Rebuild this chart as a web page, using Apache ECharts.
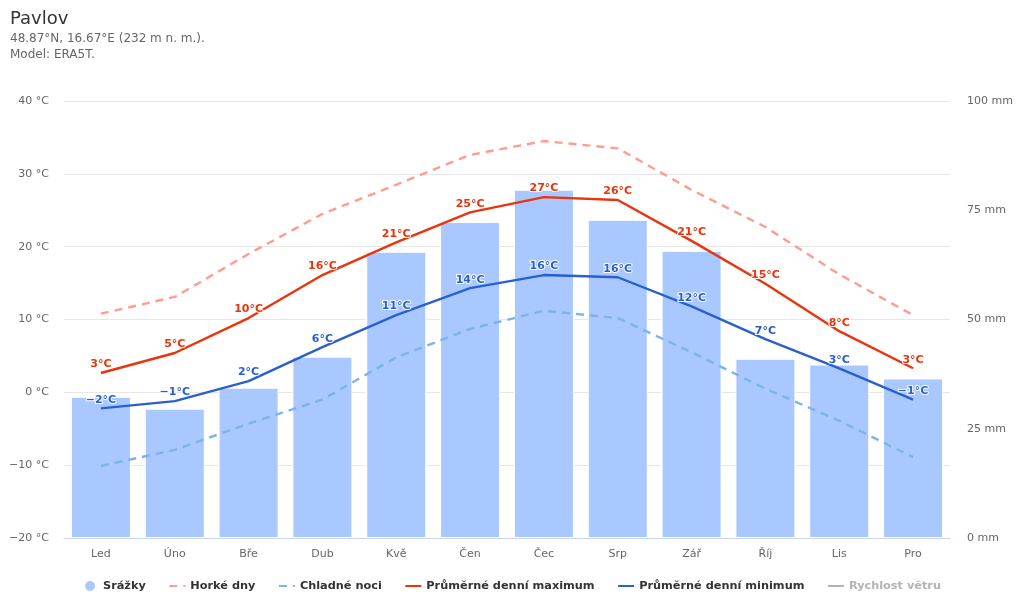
<!DOCTYPE html>
<html>
<head>
<meta charset="utf-8">
<title>Pavlov</title>
<style>
    html, body {margin: 0; padding: 0; background: #fff;}
    #chart {width: 1024px; height: 614px;}
</style>
<script src="https://cdn.jsdelivr.net/npm/echarts@6/dist/echarts.min.js"></script>
</head>
<body>
<div id="chart"></div>
<script>
const months = ['Led', 'Úno', 'Bře', 'Dub', 'Kvě', 'Čen', 'Čec', 'Srp', 'Zář', 'Říj', 'Lis', 'Pro'];
const precipitation = [32.3, 29.6, 34.4, 41.5, 65.5, 72.3, 79.7, 72.8, 65.7, 41, 39.7, 36.5];
const hotDays = [10.8, 13.1, 19, 24.5, 28.5, 32.6, 34.5, 33.5, 27.8, 22.7, 16.2, 10.6];
const coldNights = [-10.1, -7.9, -4.3, -1, 4.8, 8.7, 11.2, 10.2, 5.5, 0.5, -3.9, -8.9];
const meanMax = [2.65, 5.4, 10.2, 16.1, 20.6, 24.7, 26.8, 26.4, 20.8, 14.9, 8.4, 3.3];
const meanMin = [-2.2, -1.2, 1.55, 6.2, 10.6, 14.3, 16.1, 15.8, 11.8, 7.3, 3.3, -1];
const windSpeed = [];

const fontName = '"DejaVu Sans", sans-serif';

// popisky teplot s bílým lemem
const tempLabel = (color) => ({
    show: true,
    position: 'top',
    distance: 3,
    color: color,
    fontFamily: fontName,
    fontSize: 11,
    fontWeight: 'bold',
    textBorderColor: '#fff',
    textBorderWidth: 2,
    formatter: (p) => `${Math.round(p.value)}°C`.replace('-', '−'),
});

// v legendě jen čára, bez kolečka
const lineLegendItem = (name) => ({name: name, itemStyle: {color: 'transparent'}});

const chart = echarts.init(document.getElementById('chart'));
chart.setOption({
    animation: false,
    textStyle: {fontFamily: fontName},
    title: [
        {
            text: 'Pavlov',
            left: 10,
            top: 10,
            padding: 0,
            textStyle: {fontSize: 18, fontWeight: 400, color: '#333', fontFamily: fontName},
        },
        {
            text: '48.87°N, 16.67°E (232 m n. m.).\nModel: ERA5T.',
            left: 10,
            top: 31,
            padding: 0,
            textStyle: {fontSize: 12, fontWeight: 400, color: '#666', lineHeight: 16, fontFamily: fontName},
        },
    ],
    legend: {
        bottom: 16,
        left: 'center',
        itemWidth: 16,
        itemHeight: 12,
        itemGap: 22.5,
        textStyle: {fontSize: 11.3, fontWeight: 'bold', color: '#333', fontFamily: fontName},
        data: [
            {name: 'Srážky', icon: 'circle'},
            lineLegendItem('Horké dny'),
            lineLegendItem('Chladné noci'),
            lineLegendItem('Průměrné denní maximum'),
            lineLegendItem('Průměrné denní minimum'),
            // rychlost větru je v originále vypnutá, proto jen šedě
            {...lineLegendItem('Rychlost větru'), textStyle: {color: '#b3b3b3'}},
        ],
    },
    grid: {left: 64, right: 74, top: 101, bottom: 76},
    xAxis: {
        type: 'category',
        data: months,
        axisTick: {show: false},
        axisLine: {onZero: false, lineStyle: {color: '#ccd6eb'}},
        axisLabel: {color: '#666', fontSize: 11, margin: 11, fontFamily: fontName},
    },
    yAxis: [
        {
            type: 'value',
            min: -20,
            max: 40,
            interval: 10,
            axisLine: {show: false},
            axisTick: {show: false},
            splitLine: {lineStyle: {color: '#e6e6e6'}},
            axisLabel: {
                color: '#666',
                fontSize: 11,
                margin: 15,
                fontFamily: fontName,
                formatter: (v) => `${v} °C`.replace('-', '−'),
            },
        },
        {
            type: 'value',
            min: 0,
            max: 100,
            interval: 25,
            axisLine: {show: false},
            axisTick: {show: false},
            splitLine: {show: false},
            axisLabel: {
                color: '#666',
                fontSize: 11,
                margin: 17,
                fontFamily: fontName,
                formatter: '{value} mm',
            },
        },
    ],
    series: [
        {
            name: 'Srážky',
            type: 'bar',
            yAxisIndex: 1,
            barWidth: 60,
            data: precipitation,
            itemStyle: {color: '#a8c8ff', borderColor: '#fff', borderWidth: 1},
            z: 1,
        },
        {
            name: 'Horké dny',
            type: 'line',
            symbol: 'none',
            data: hotDays,
            itemStyle: {color: '#ff9c8f'},
            lineStyle: {color: '#ff9c8f', width: 2.4, type: [8, 6]},
            z: 2,
        },
        {
            name: 'Chladné noci',
            type: 'line',
            symbol: 'none',
            data: coldNights,
            itemStyle: {color: '#7db3ea'},
            lineStyle: {color: '#7db3ea', width: 2.4, type: [8, 6]},
            z: 2,
        },
        {
            name: 'Průměrné denní maximum',
            type: 'line',
            symbol: 'circle',
            symbolSize: 0.01,
            showAllSymbol: true,
            data: meanMax,
            itemStyle: {color: '#e8350e'},
            lineStyle: {color: '#e8350e', width: 2.4},
            label: tempLabel('#e8350e'),
            z: 3,
        },
        {
            name: 'Průměrné denní minimum',
            type: 'line',
            symbol: 'circle',
            symbolSize: 0.01,
            showAllSymbol: true,
            data: meanMin,
            itemStyle: {color: '#2a5fd0'},
            lineStyle: {color: '#2a5fd0', width: 2.4},
            label: tempLabel('#2a5fd0'),
            z: 3,
        },
        {
            name: 'Rychlost větru',
            type: 'line',
            symbol: 'none',
            data: windSpeed,
            itemStyle: {color: '#b3b3b3'},
            lineStyle: {color: '#b3b3b3', width: 2.4},
        },
    ],
});
</script>
</body>
</html>
